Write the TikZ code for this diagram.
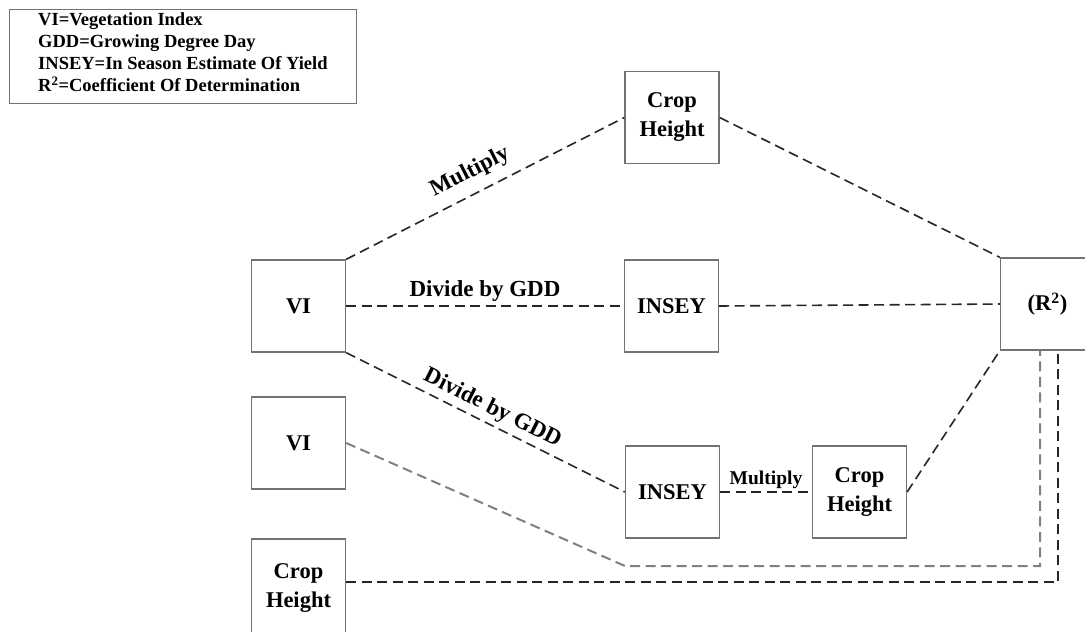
\documentclass[tikz,border=0pt]{standalone}
\usepackage{fontspec}
\setmainfont{Liberation Serif}
\begin{document}
\begin{tikzpicture}[x=1pt,y=-1pt,
  box/.style={draw=black!55, line width=1.3pt, minimum width=94pt, minimum height=92pt,
              inner sep=0pt, align=center, font=\bfseries\fontsize{22.5}{29}\selectfont},
  dline/.style={draw=black!85, line width=1.6pt, dash pattern=on 10pt off 5.5pt},
  gline/.style={draw=black!50, line width=2pt, dash pattern=on 10pt off 5.5pt},
  lbl/.style={font=\bfseries\fontsize{23}{27}\selectfont, inner sep=1pt},
  smalllbl/.style={font=\bfseries\fontsize{19.5}{23}\selectfont, inner sep=1pt},
  legendbox/.style={draw=black!55, line width=1.3pt, minimum width=347pt, minimum height=94pt,
                    inner sep=0pt, anchor=north west},
  legendtext/.style={align=left, inner sep=0pt, anchor=west,
                     font=\bfseries\fontsize{18.5}{22}\selectfont}]
\useasboundingbox (0,0) rectangle (1085,632);

% legend
\node[legendbox] (key) at (9,9) {};
\node[legendtext] (keytext) at ([xshift=29pt,yshift=4pt]key.west)
  {VI=Vegetation Index\\GDD=Growing Degree Day\\INSEY=In Season Estimate Of Yield\\R\textsuperscript{2}=Coefficient Of Determination};

% boxes
\node[box] (ch1) at (672,117.5) {Crop\\Height};
\node[box] (vi1) at (298.5,306) {VI};
\node[box] (insey1) at (671.5,306) {INSEY};
\node[box] (r2) at (1047.5,304) {(R\textsuperscript{2})};
\node[box] (vi2) at (298.5,443) {VI};
\node[box] (insey2) at (672.5,492) {INSEY};
\node[box] (ch2) at (859.5,492) {Crop\\Height};
\node[box, minimum height=98pt] (ch3) at (298.5,588) {Crop\\Height};

% connectors
\draw[dline] (vi1.north east) -- node[lbl, sloped, above=9pt, pos=0.48] {Multiply} (ch1.west);
\draw[dline] (ch1.east) -- (r2.north west);
\draw[dline] (vi1.east) -- node[lbl, above=3pt] {Divide by GDD} (insey1.west);
\draw[dline] (insey1.east) -- (r2.west);
\draw[dline] (vi1.south east) -- node[lbl, sloped, above=3pt] {Divide by GDD} (insey2.west);
\draw[dline] (insey2.east) -- node[smalllbl, above=1pt] {Multiply} (ch2.west);
\draw[dline] (ch2.east) -- (r2.south west);

\coordinate (g1) at (625,566);
\coordinate (g2) at (1040,566);
\draw[gline] (vi2.east) -- (g1) -- (g2) -- (g2 |- r2.south);

\coordinate (c3) at ([yshift=6pt]ch3.east);
\coordinate (d1) at (1058,582);
\draw[dline] (c3) -- (c3 -| d1) -- (d1) -- (d1 |- r2.south);
\end{tikzpicture}
\end{document}
